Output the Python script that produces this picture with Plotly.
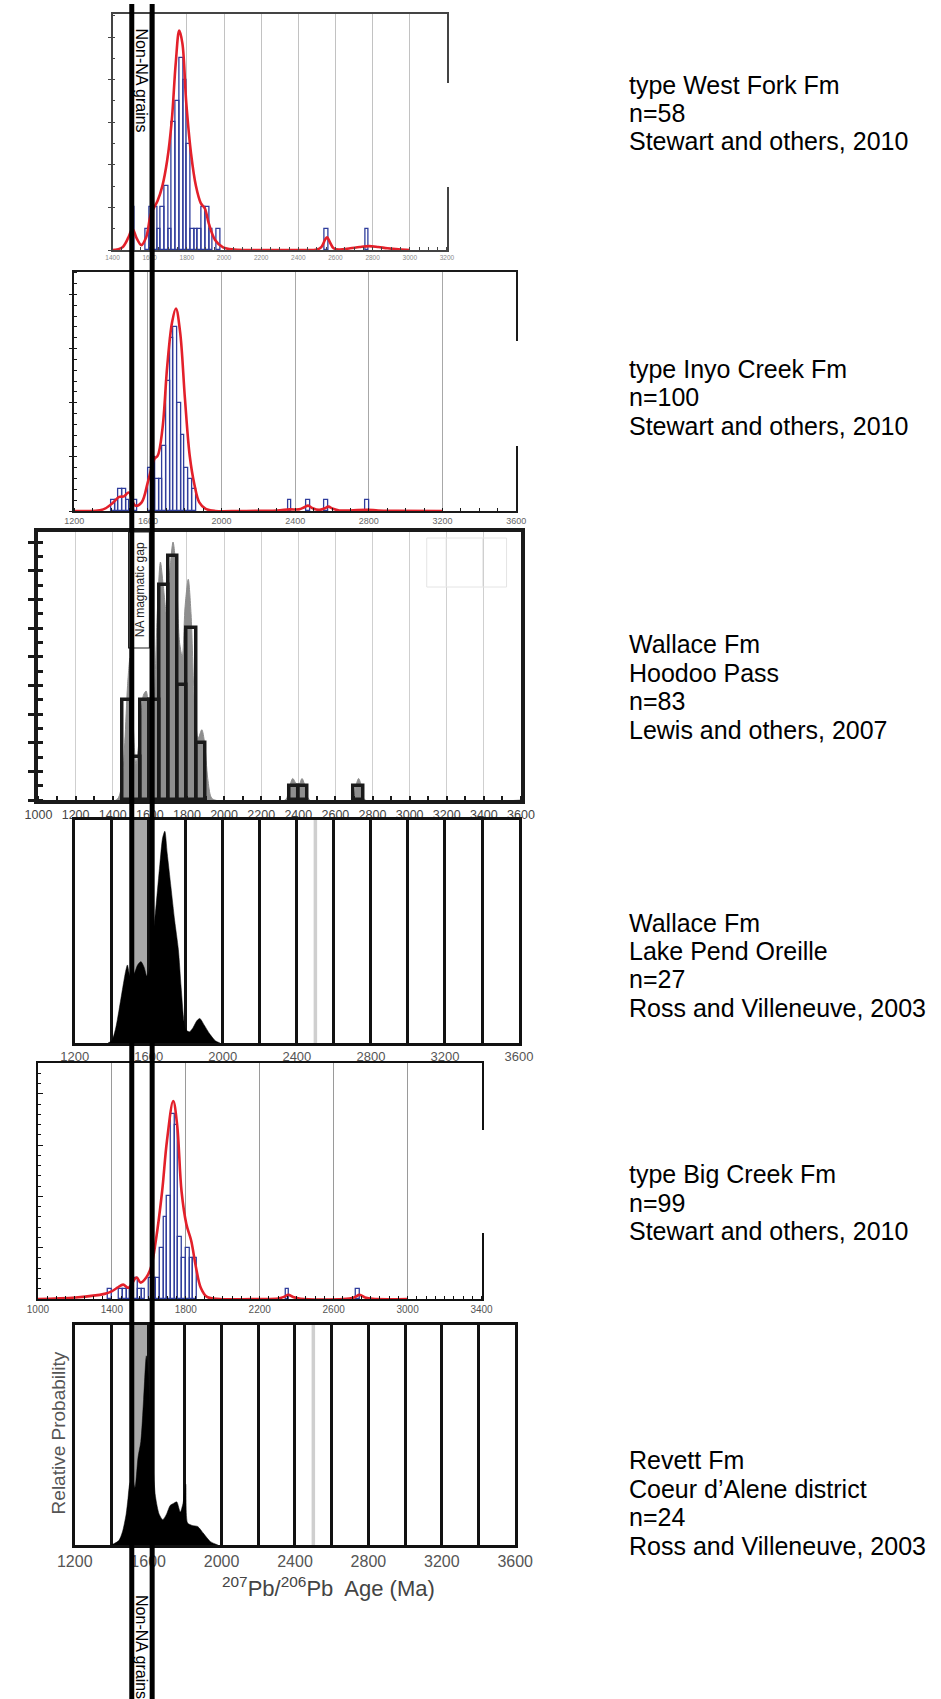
import plotly.graph_objects as go

W, H = 941, 1699
FONT = "Liberation Sans, Arial, Helvetica, sans-serif"
BLUE = "#2f3d9c"
RED = "#e3202a"

# ---------------- DATA ----------------
# Panel 1: type West Fork Fm (20 Ma bins, left edges)
p1_bin_left = [1500, 1580, 1600, 1620, 1640, 1660, 1680, 1700, 1720, 1740, 1760, 1780,
               1800, 1820, 1840, 1860, 1880, 1900, 1920, 1960, 2540, 2760]
p1_counts = [2, 1, 2, 2, 1, 2, 3, 1, 6, 7, 9, 8, 5, 1, 1, 1, 2, 2, 1, 1, 1, 1]
p1_curve_age = [1400, 1452, 1486, 1507, 1530, 1555, 1581, 1607, 1642, 1668, 1694, 1719, 1740,
                1759, 1776, 1797, 1823, 1849, 1875, 1897, 1918, 1952, 1995, 2056, 2200, 2400,
                2500, 2525, 2545, 2555, 2568, 2590, 2620, 2680, 2730, 2780, 2830, 2880, 2940, 3000]
p1_curve_val = [0, 0.12, 0.6, 1.0, 0.55, 0.23, 0.6, 1.7, 2.3, 3.0, 4.2, 6.1, 8.75,
                10.3, 9.7, 6.9, 4.5, 3.0, 2.2, 1.95, 1.25, 0.47, 0.12, 0.02, 0.0, 0.0,
                0.02, 0.15, 0.5, 0.6, 0.4, 0.08, 0.02, 0.08, 0.14, 0.18, 0.14, 0.08, 0.03, 0]
p1_xticks = [1400, 1600, 1800, 2000, 2200, 2400, 2600, 2800, 3000, 3200]

# Panel 2: type Inyo Creek Fm
p2_bin_left = [1400, 1420, 1440, 1460, 1480, 1520, 1600, 1620, 1640, 1660, 1680, 1700,
               1720, 1740, 1760, 1780, 1800, 1820, 1840, 2360, 2460, 2560, 2780]
p2_counts = [1, 1, 2, 2, 1, 1, 4, 5, 3, 3, 6, 12, 16, 17, 10, 7, 4, 3, 2, 1, 1, 1, 1]
p2_curve_age = [1200, 1357, 1406, 1444, 1470, 1496, 1531, 1566, 1600, 1635, 1653, 1679, 1705,
                1731, 1752, 1775, 1801, 1827, 1853, 1879, 1914, 1966, 2100, 2300, 2370, 2420,
                2450, 2470, 2495, 2530, 2560, 2580, 2605, 2640, 2700, 2790, 2850, 2950, 3200]
p2_curve_val = [0, 0.15, 0.7, 1.3, 1.35, 1.7, 0.5, 0.8, 2.7, 4.8, 5.1, 7.6, 13.4,
                17.4, 18.7, 16.5, 10.4, 5.1, 2.4, 0.8, 0.2, 0, 0, 0.05, 0.15, 0.15,
                0.35, 0.5, 0.25, 0.1, 0.25, 0.4, 0.2, 0.05, 0.05, 0.12, 0.05, 0.02, 0]
p2_xticks = [1200, 1600, 2000, 2400, 2800, 3200, 3600]

# Panel 3: Wallace Fm, Hoodoo Pass (50 Ma bins)
p3_bin_left = [1450, 1500, 1550, 1600, 1650, 1700, 1750, 1800, 1850, 2350, 2400, 2700]
p3_counts = [7, 3, 7, 7, 15, 17, 8, 12, 4, 1, 1, 1]
p3_curve_age = [1000, 1420, 1445, 1465, 1480, 1493, 1505, 1525, 1545, 1565, 1580, 1595, 1610,
                1625, 1640, 1657, 1672, 1690, 1708, 1725, 1742, 1760, 1775, 1790, 1807,
                1822, 1840, 1860, 1880, 1895, 1912, 1930, 1950, 2330, 2350, 2370, 2385,
                2400, 2420, 2440, 2460, 2690, 2710, 2725, 2740, 2760, 3600]
p3_curve_val = [0, 0, 0.8, 4, 8, 9.9, 7, 2.5, 4.5, 7.3, 7.6, 6, 4,
                7, 13, 16.6, 15, 13, 16, 18, 16, 11, 10, 13.5, 15.4,
                13, 7, 4.3, 4.9, 4, 1.5, 0.2, 0, 0, 0.8, 1.5, 1.2,
                0.9, 1.5, 0.8, 0, 0, 1.0, 1.5, 1.0, 0, 0]
p3_xticks = [1000, 1200, 1400, 1600, 1800, 2000, 2200, 2400, 2600, 2800, 3000, 3200, 3400, 3600]

# Panel 4: Wallace Fm, Lake Pend Oreille (relative probability)
p4_curve_age = [1380, 1400, 1420, 1440, 1460, 1475, 1485, 1500, 1520, 1540, 1558, 1575, 1590,
                1605, 1620, 1640, 1660, 1675, 1687, 1700, 1720, 1740, 1760, 1775, 1790, 1800,
                1820, 1840, 1860, 1876, 1900, 1930, 1960, 1985]
p4_curve_val = [0, 0.01, 0.06, 0.15, 0.25, 0.32, 0.35, 0.30, 0.31, 0.35, 0.365, 0.34, 0.30,
                0.33, 0.45, 0.62, 0.80, 0.92, 0.95, 0.85, 0.70, 0.55, 0.42, 0.25, 0.10, 0.06,
                0.05, 0.07, 0.10, 0.11, 0.08, 0.04, 0.01, 0]
p4_xticks = [1200, 1600, 2000, 2400, 2800, 3200, 3600]

# Panel 5: type Big Creek Fm
p5_bin_left = [1380, 1440, 1460, 1480, 1520, 1540, 1560, 1600, 1620, 1640, 1660, 1680,
               1700, 1720, 1740, 1760, 1780, 1800, 1820, 1840, 2340, 2720]
p5_counts = [1, 1, 1, 1, 2, 1, 1, 2, 2, 2, 5, 8, 10, 18, 17, 6, 4, 5, 4, 4, 1, 1]
p5_curve_age = [1000, 1204, 1360, 1399, 1430, 1461, 1490, 1534, 1555, 1586, 1612, 1638, 1672,
                1698, 1732, 1753, 1777, 1803, 1829, 1855, 1881, 1915, 1985, 2200, 2300, 2330,
                2355, 2380, 2420, 2650, 2710, 2740, 2770, 2810, 3000]
p5_curve_val = [0, 0.15, 0.5, 0.75, 1.1, 1.4, 1.1, 2.1, 1.6, 2.1, 3.1, 5.7, 10.5,
                15.4, 19.3, 17, 10.5, 7.3, 5.7, 3.1, 1.1, 0.2, 0, 0, 0.05, 0.2,
                0.4, 0.2, 0.03, 0.0, 0.15, 0.4, 0.15, 0.02, 0]
p5_xticks = [1000, 1400, 1800, 2200, 2600, 3000, 3400]

# Panel 6: Revett Fm (relative probability)
p6_curve_age = [1400, 1440, 1460, 1480, 1490, 1500, 1515, 1528, 1545, 1560, 1575, 1590, 1600,
                1612, 1625, 1640, 1660, 1680, 1700, 1720, 1740, 1756, 1775, 1790, 1805, 1815,
                1840, 1870, 1900, 1940, 1980]
p6_curve_val = [0, 0.02, 0.06, 0.14, 0.21, 0.28, 0.30, 0.26, 0.40, 0.47, 0.66, 0.86, 0.78,
                0.55, 0.38, 0.22, 0.14, 0.115, 0.14, 0.18, 0.19, 0.196, 0.15, 0.19, 0.276, 0.10,
                0.089, 0.084, 0.054, 0.015, 0]
p6_xticks = p4_xticks

na_gap_band = [1500, 1600]   # grey band in panels 4 and 6
ref_line_age = 2500          # light grey line in panels 4 and 6

sample_labels = [
    ["type West Fork Fm", "n=58", "Stewart and others, 2010"],
    ["type Inyo Creek Fm", "n=100", "Stewart and others, 2010"],
    ["Wallace Fm", "Hoodoo Pass", "n=83", "Lewis and others, 2007"],
    ["Wallace Fm", "Lake Pend Oreille", "n=27", "Ross and Villeneuve, 2003"],
    ["type Big Creek Fm", "n=99", "Stewart and others, 2010"],
    ["Revett Fm", "Coeur d\u2019Alene district", "n=24", "Ross and Villeneuve, 2003"],
]

# ---------------- LAYOUT (pixels) ----------------
PANELS = {
    1: (98.3, 446, 14, 250),
    2: (58.5, 518, 272, 511),
    3: (21.3, 523, 532, 800),
    4: (58.9, 521, 820, 1043),
    5: (20.7, 482, 1063, 1299),
    6: (59, 517, 1325, 1545),
}
LABEL_GROUP_Y = [84.5, 368.6, 644, 922.5, 1174, 1460]
LABEL_DY = 28.5
LABEL_X = 633
NON_NA_LINES_X = [118.3, 139.5]


def fx(px):
    return px / W


def fy(px):
    return 1 - px / H


def xname(i):
    return "x" if i == 1 else f"x{i}"


def yname(i):
    return "y" if i == 1 else f"y{i}"


def xkey(i):
    return "xaxis" if i == 1 else f"xaxis{i}"


def ykey(i):
    return "yaxis" if i == 1 else f"yaxis{i}"


fig = go.Figure()


def add_hist(xa, ya, lefts, counts, width, color, lw):
    centers = [l + width / 2 for l in lefts]
    fig.add_trace(go.Bar(x=centers, y=counts, width=width,
                         marker=dict(color="rgba(255,255,255,0)",
                                     line=dict(color=color, width=lw)),
                         xaxis=xa, yaxis=ya, showlegend=False, hoverinfo="skip"))


def add_curve(i, ages, vals, color, width, fill=None, fillcolor=None, smoothing=1.0):
    fig.add_trace(go.Scatter(x=ages, y=vals, mode="lines",
                             line=dict(color=color, width=width, shape="spline",
                                       smoothing=smoothing),
                             fill=fill, fillcolor=fillcolor,
                             xaxis=xname(i), yaxis=yname(i), showlegend=False))


# panel 1
add_hist("x", "y", p1_bin_left, p1_counts, 20, BLUE, 1.3)
add_curve(1, p1_curve_age, p1_curve_val, RED, 2.6)
# panel 2
add_hist("x2", "y2", p2_bin_left, p2_counts, 20, BLUE, 1.3)
add_curve(2, p2_curve_age, p2_curve_val, RED, 2.6)
# panel 3 (grey probability under black-outlined histogram on overlay axes)
add_curve(3, p3_curve_age, p3_curve_val, "#8e8e8e", 1, fill="tozeroy",
          fillcolor="#8e8e8e", smoothing=0.8)
add_hist("x7", "y7", p3_bin_left, p3_counts, 50, "#1a1a1a", 3.5)
# panel 4
add_curve(4, p4_curve_age, p4_curve_val, "#000000", 0.5, fill="tozeroy",
          fillcolor="#000000", smoothing=0.7)
# panel 5
add_hist("x5", "y5", p5_bin_left, p5_counts, 20, BLUE, 1.3)
add_curve(5, p5_curve_age, p5_curve_val, RED, 2.6)
# panel 6
add_curve(6, p6_curve_age, p6_curve_val, "#000000", 0.5, fill="tozeroy",
          fillcolor="#000000", smoothing=0.7)

layout = dict(width=W, height=H, margin=dict(l=0, r=0, t=0, b=0),
              paper_bgcolor="white", plot_bgcolor="rgba(0,0,0,0)",
              font=dict(family=FONT, color="black"), showlegend=False, bargap=0)


def set_axes(i, xrange, yrange, xt, xfont, xcolor, grid_color, grid_w, line_color,
             line_w, xminor, yticks, ymajor_len=3, yminor=None, ytick_w=1,
             ymajor_dir="outside"):
    l, r, t, b = PANELS[i]
    xa = dict(domain=[fx(l), fx(r)], range=xrange, anchor=yname(i), tickmode="array",
              tickvals=xt, ticktext=[str(v) for v in xt],
              tickfont=dict(size=xfont, color=xcolor, family=FONT),
              showgrid=True, gridcolor=grid_color, gridwidth=grid_w, zeroline=False,
              showline=True, linecolor=line_color, linewidth=line_w, mirror=True,
              ticks="", ticklen=0, fixedrange=True)
    if xminor:
        xa["minor"] = xminor
    ya = dict(domain=[fy(b), fy(t)], range=yrange, anchor=xname(i), showticklabels=False,
              showgrid=False, zeroline=False, showline=True, linecolor=line_color,
              linewidth=line_w, mirror=True, fixedrange=True)
    if yticks:
        ya.update(dict(tickmode="linear", tick0=0, dtick=yticks, ticks=ymajor_dir,
                       ticklen=ymajor_len, tickwidth=ytick_w, tickcolor=line_color))
    else:
        ya.update(dict(ticks=""))
    if yminor:
        ya["minor"] = dict(dtick=yminor[0], tick0=0, ticks="inside", ticklen=yminor[1],
                           tickwidth=ytick_w, tickcolor=line_color, showgrid=False)
    layout[xkey(i)] = xa
    layout[ykey(i)] = ya


def tick_minor(dt, t0, ln, w, col):
    return dict(dtick=dt, tick0=t0, ticks="inside", ticklen=ln, tickwidth=w,
                tickcolor=col, showgrid=False)


set_axes(1, [1400, 3200], [0, 11.08], p1_xticks, 6.5, "#8a8a8a",
         "#c2c2c2", 1.3, "#444444", 1.5, tick_minor(50, 1400, 3, 1, "#444444"), 2, 3, (1, 3))
set_axes(2, [1200, 3600], [0, 22.07], p2_xticks, 9, "#666666",
         "#a8a8a8", 1.2, "#1a1a1a", 1.5, tick_minor(100, 1200, 3, 1, "#1a1a1a"), 5, 4, (1, 3))
set_axes(3, [1000, 3600], [0, 18.7], p3_xticks, 12.5, "#444444",
         "#cfcfcf", 1.0, "#1a1a1a", 4, tick_minor(100, 1000, 4, 2, "#1a1a1a"), 2, 6, (1, 5),
         ytick_w=3)
grid200 = dict(dtick=200, tick0=1200, showgrid=True, gridcolor="#111111", gridwidth=2.5,
               ticks="")
set_axes(4, [1200, 3600], [0, 1], p4_xticks, 13, "#555555",
         "#111111", 2.5, "#111111", 2.5, grid200, None)
set_axes(5, [1000, 3400], [0, 23.0], p5_xticks, 10, "#555555",
         "#9a9a9a", 1.0, "#111111", 2, tick_minor(50, 1000, 3, 1, "#111111"), 5, 5, (1, 3),
         ymajor_dir="inside")
set_axes(6, [1200, 3600], [0, 1], p6_xticks, 16, "#555555",
         "#111111", 2.5, "#111111", 2.5, dict(grid200), None)

# overlay axes so that panel-3 bars are drawn above the grey curve
layout["xaxis7"] = dict(overlaying="x3", range=[1000, 3600], visible=False, anchor="y7",
                        fixedrange=True)
layout["yaxis7"] = dict(overlaying="y3", range=[0, 18.7], visible=False, anchor="x7",
                        fixedrange=True)

shapes = []
for i in (4, 6):
    shapes.append(dict(type="rect", xref=xname(i), yref=f"{yname(i)} domain",
                       x0=na_gap_band[0], x1=na_gap_band[1], y0=0, y1=1,
                       fillcolor="#a9a9a9", line=dict(width=0), layer="below"))
    shapes.append(dict(type="line", xref=xname(i), yref=f"{yname(i)} domain",
                       x0=ref_line_age, x1=ref_line_age, y0=0, y1=1,
                       line=dict(color="#cfcfcf", width=3.5), layer="below"))

# gaps in right frame edges (as in the original composite)
for (xpx, y0, y1) in [(446, 83, 187), (518, 341, 446), (482, 1130, 1233)]:
    shapes.append(dict(type="rect", xref="paper", yref="paper",
                       x0=fx(xpx - 3), x1=fx(xpx + 3), y0=fy(y1), y1=fy(y0),
                       fillcolor="white", line=dict(width=0), layer="above"))

# faint legend box in panel 3
shapes.append(dict(type="rect", xref="paper", yref="paper", x0=fx(425), x1=fx(508),
                   y0=fy(587), y1=fy(538), line=dict(color="#e4e4e4", width=1),
                   fillcolor="rgba(0,0,0,0)", layer="above"))
for xv in (445, 483):
    shapes.append(dict(type="line", xref="paper", yref="paper", x0=fx(xv), x1=fx(xv),
                       y0=fy(587), y1=fy(538), line=dict(color="#ececec", width=1),
                       layer="above"))

# NA magmatic gap box
shapes.append(dict(type="rect", xref="paper", yref="paper", x0=fx(115), x1=fx(136.7),
                   y0=fy(648), y1=fy(532), fillcolor="white",
                   line=dict(color="#222222", width=1.2), layer="above"))

# Non-NA grains bounding lines
for xv in NON_NA_LINES_X:
    shapes.append(dict(type="line", xref="paper", yref="paper", x0=fx(xv), x1=fx(xv),
                       y0=fy(4), y1=0, line=dict(color="black", width=5), layer="above"))

layout["shapes"] = shapes

ann = []
mid_x = (NON_NA_LINES_X[0] + NON_NA_LINES_X[1]) / 2
for ycen in (80.5, 1647):
    ann.append(dict(text="Non-NA grains", x=fx(mid_x), y=fy(ycen), xref="paper", yref="paper",
                    showarrow=False, textangle=90, font=dict(size=16, color="black", family=FONT),
                    xanchor="center", yanchor="middle"))
ann.append(dict(text="NA magmatic gap", x=fx(126.5), y=fy(589.5), xref="paper", yref="paper",
                showarrow=False, textangle=-90, font=dict(size=12, color="#222222", family=FONT),
                xanchor="center", yanchor="middle"))
ann.append(dict(text="Relative Probability", x=fx(42), y=fy(1433), xref="paper", yref="paper",
                showarrow=False, textangle=-90, font=dict(size=19, color="#555555", family=FONT),
                xanchor="center", yanchor="middle"))
ann.append(dict(text="<sup>207</sup>Pb/<sup>206</sup>Pb  Age (Ma)", x=fx(323), y=fy(1587),
                xref="paper", yref="paper", showarrow=False,
                font=dict(size=22, color="#444444", family=FONT),
                xanchor="center", yanchor="middle"))
for g, lines in enumerate(sample_labels):
    for k, txt in enumerate(lines):
        ann.append(dict(text=txt, x=fx(LABEL_X), y=fy(LABEL_GROUP_Y[g] + k * LABEL_DY),
                        xref="paper", yref="paper", showarrow=False,
                        font=dict(size=25, color="black", family=FONT),
                        xanchor="left", yanchor="middle"))
layout["annotations"] = ann

fig.update_layout(**layout)
fig.write_html("out.html")
